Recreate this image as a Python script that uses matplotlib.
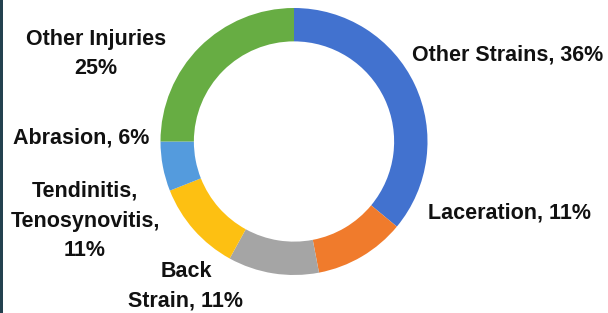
import matplotlib
matplotlib.use("Agg")
import matplotlib.pyplot as plt
from matplotlib.patches import Rectangle

# Data
categories = ["Other Strains", "Laceration", "Back Strain", "Tendinitis, Tenosynovitis",
              "Abrasion", "Other Injuries"]
values = [36, 11, 11, 11, 6, 25]
labels = ["Other Strains, 36%", "Laceration, 11%", "Back\nStrain, 11%",
          "Tendinitis,\nTenosynovitis,\n11%", "Abrasion, 6%", "Other Injuries\n25%"]
colors = ["#4272CF", "#F07B2C", "#A5A5A5", "#FDC012", "#549BDD", "#67AD43"]

W, H = 608, 313
fig = plt.figure(figsize=(W / 100, H / 100), dpi=100)
fig.patch.set_facecolor("white")

# donut geometry (pixels)
cx, cy, R = 294, 141.5, 133.5
ax = fig.add_axes([(cx - R) / W, (H - cy - R) / H, 2 * R / W, 2 * R / H])
ax.pie(values, colors=colors, startangle=90, counterclock=False, radius=1,
       wedgeprops=dict(width=0.25, linewidth=0))
ax.set_xlim(-1, 1)
ax.set_ylim(-1, 1)
ax.axis("off")

# label positions: (center x, first baseline y) in pixels
label_pos = [(508, 60), (509, 218), (186, 277), (85, 197), (81, 143), (96, 45)]
line_step = 29.5
for lab, (x, y) in zip(labels, label_pos):
    for i, line in enumerate(lab.split("\n")):
        fig.text(x / W, 1 - (y + i * line_step) / H, line, ha="center", va="baseline",
                 fontsize=15.5, fontweight="bold", family=["Liberation Sans", "DejaVu Sans"],
                 color="#111111")

# dark strip on left edge
fig.add_artist(Rectangle((0, 0), 2.5 / W, 1, transform=fig.transFigure,
                         facecolor="#23414f", edgecolor="none"))

fig.savefig("out.png", dpi=100)
